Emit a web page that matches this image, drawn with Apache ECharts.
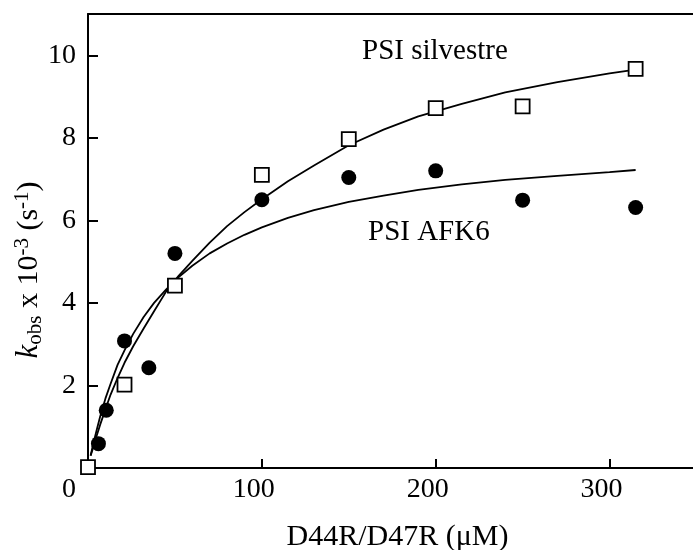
<!DOCTYPE html>
<html><head><meta charset="utf-8">
<script src="https://cdn.jsdelivr.net/npm/echarts@6/dist/echarts.min.js"></script>
<style>html,body{margin:0;padding:0;background:#fff}#c{width:693px;height:550px}</style>
</head><body><div id="c"></div>
<script>
// Measured data points
const silvX = [0, 21, 50, 100, 150, 200, 250, 315];
const silvY = [0.02, 2.02, 4.42, 7.1, 7.97, 8.72, 8.76, 9.67];
const afkX = [6, 10.5, 21, 35, 50, 100, 150, 200, 250, 315];
const afkY = [0.59, 1.4, 3.08, 2.43, 5.2, 6.5, 7.04, 7.2, 6.49, 6.31];
// Fitted curves
const silvFitX = [1.5, 3, 5, 7, 10, 13, 17, 21, 26, 32, 38, 45, 52, 60, 70, 80, 90, 100, 115, 130, 150, 170, 190, 215, 240, 270, 300, 315];
const silvFitY = [0.3, 0.5, 0.78, 1.05, 1.42, 1.78, 2.18, 2.55, 2.95, 3.38, 3.8, 4.28, 4.65, 5.02, 5.46, 5.86, 6.2, 6.51, 6.95, 7.33, 7.82, 8.2, 8.52, 8.82, 9.1, 9.35, 9.56, 9.65];
const afkFitX = [1.5, 3, 5, 7, 10, 13, 17, 21, 26, 32, 38, 45, 52, 60, 70, 80, 90, 100, 115, 130, 150, 170, 190, 215, 240, 270, 300, 315];
const afkFitY = [0.3, 0.58, 0.92, 1.25, 1.68, 2.04, 2.5, 2.85, 3.25, 3.66, 4.0, 4.33, 4.62, 4.9, 5.2, 5.44, 5.65, 5.83, 6.06, 6.25, 6.45, 6.6, 6.74, 6.87, 6.98, 7.08, 7.17, 7.22];
// Axis setup
const xMin = 0, xMax = 348, xStep = 100;
const yMin = 0, yMax = 11, yStep = 2;
const seriesNames = ['PSI silvestre', 'PSI AFK6'];
const xTitle = 'D44R/D47R (\u03bcM)';

const FONT = 'Liberation Serif';
const zip = (a, b) => a.map((v, i) => [v, b[i]]);

const chart = echarts.init(document.getElementById('c'), null, {renderer: 'canvas'});
chart.setOption({
  animation: false,
  backgroundColor: '#ffffff',
  grid: {left: 88, top: 14, right: 0, bottom: 82, containLabel: false, outerBoundsMode: 'none'},
  xAxis: [{
    type: 'value', min: xMin, max: xMax, interval: xStep, position: 'bottom',
    axisLine: {show: true, lineStyle: {color: '#000', width: 2}},
    axisTick: {show: true, inside: true, length: 9, lineStyle: {color: '#000', width: 2}},
    splitLine: {show: false},
    axisLabel: {
      color: '#000', fontFamily: FONT, fontSize: 28, margin: 8,
      showMaxLabel: false,
      formatter: v => v === 0 ? '{o|0}' : '{n|' + v + '}',
      rich: {
        o: {fontFamily: FONT, fontSize: 28, color: '#000', padding: [0, 38, 0, 0]},
        n: {fontFamily: FONT, fontSize: 28, color: '#000', padding: [0, 16, 0, 0]}
      }
    },
    name: xTitle, nameLocation: 'middle', nameGap: 54,
    nameTextStyle: {color: '#000', fontFamily: FONT, fontSize: 30, padding: [0, 0, 0, 14]}
  }, {
    type: 'value', min: xMin, max: xMax, position: 'top',
    axisLine: {show: true, lineStyle: {color: '#000', width: 2}},
    axisTick: {show: false}, axisLabel: {show: false}, splitLine: {show: false}
  }],
  yAxis: {
    type: 'value', min: yMin, max: yMax, interval: yStep,
    axisLine: {show: true, lineStyle: {color: '#000', width: 2}},
    axisTick: {show: true, inside: true, length: 10, lineStyle: {color: '#000', width: 2}},
    splitLine: {show: false},
    axisLabel: {
      color: '#000', fontFamily: FONT, fontSize: 28, margin: 12,
      showMaxLabel: false,
      formatter: v => v === 0 ? '' : String(v)
    }
  },
  graphic: [
    {type: 'text', left: 362, top: 37, style: {text: seriesNames[0], fontFamily: FONT, fontSize: 29, fill: '#000'}},
    {type: 'text', left: 368, top: 218, style: {text: seriesNames[1], fontFamily: FONT, fontSize: 29, fill: '#000'}},
    {type: 'text', x: 29, y: 270, rotation: Math.PI / 2,
     style: {
       text: '{i|k}{sub|obs}{t| x 10}{sup|-3}{t| (s}{sup|-1}{t|)}',
       align: 'center', verticalAlign: 'middle', fill: '#000',
       fontFamily: FONT, fontSize: 30,
       rich: {
         i: {fontFamily: FONT, fontSize: 31, fontStyle: 'italic', fill: '#000', lineHeight: 34},
         t: {fontFamily: FONT, fontSize: 30, fill: '#000', lineHeight: 34},
         sub: {fontFamily: FONT, fontSize: 21, fill: '#000', lineHeight: 16, verticalAlign: 'bottom'},
         sup: {fontFamily: FONT, fontSize: 21, fill: '#000', lineHeight: 16, verticalAlign: 'top'}
       }
     }}
  ],
  series: [
    {type: 'line', name: seriesNames[0] + ' fit', data: zip(silvFitX, silvFitY), smooth: false, showSymbol: false,
     lineStyle: {color: '#000', width: 1.8}, silent: true, z: 2},
    {type: 'line', name: seriesNames[1] + ' fit', data: zip(afkFitX, afkFitY), smooth: false, showSymbol: false,
     lineStyle: {color: '#000', width: 1.8}, silent: true, z: 2},
    {type: 'scatter', name: seriesNames[0], data: zip(silvX, silvY), symbol: 'rect', symbolSize: 14, clip: false,
     itemStyle: {color: '#fff', borderColor: '#000', borderWidth: 1.8, opacity: 1}, z: 4},
    {type: 'scatter', name: seriesNames[1], data: zip(afkX, afkY), symbol: 'circle', symbolSize: 15, clip: false,
     itemStyle: {color: '#000', opacity: 1}, z: 5}
  ]
});
</script></body></html>
